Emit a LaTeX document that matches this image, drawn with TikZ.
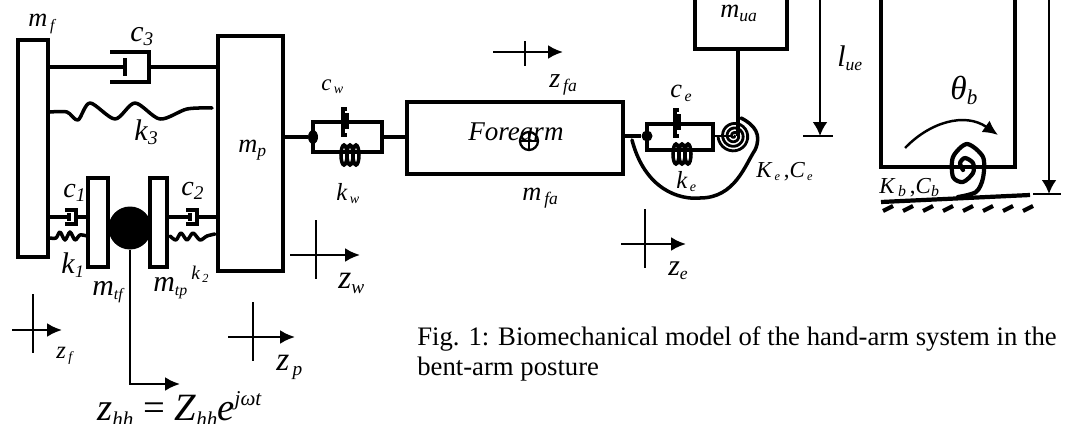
\documentclass[tikz,border=0pt]{standalone}
\usepackage{fontspec}
\setmainfont{Liberation Serif}
\usetikzlibrary{arrows.meta,shapes.geometric}
\newcommand{\lsub}[2]{\textit{#1}{\raisebox{-.35ex}{\fontsize{\q}{\q}\selectfont\textit{#2}}}}
\tikzset{
  massbox/.style 2 args={draw, line width=2pt, inner sep=0pt, minimum width=#1*0.02cm, minimum height=#2*0.02cm},
  lab/.style={anchor=base west, inner sep=0pt},
  barline/.style={line width=2pt},
  thinline/.style={line width=1.4pt},
  wave/.style={line width=2pt, line cap=round, line join=round},
  tipline/.style={-{Latex[length=3mm,width=2.8mm]}, line width=1.4pt}
}
\begin{document}
\begin{tikzpicture}[x=0.02cm, y=-0.02cm]
  \useasboundingbox (0,0) rectangle (1075,423);
  % masses
  \node[massbox={30}{217}] (mf) at (33,148.5) {};
  \node[massbox={65}{235}] (mp) at (250.5,153.5) {};
  \node[massbox={20}{89}] (mtf) at (98,222.5) {};
  \node[massbox={17}{89}] (mtp) at (158.5,222.5) {};
  \node[circle, fill=black, inner sep=0pt, minimum size=0.86cm] (ball) at (130,228) {};
  \node[massbox={216}{72}] (fa) at (515,138) {};
  \node[circle, draw, line width=1.3pt, inner sep=0pt, minimum size=0.36cm] (cg) at (529,141) {};
  \draw[line width=1.3pt] (cg.west) -- (cg.east) (cg.north) -- (cg.south);
  % open boxes cut by the page
  \coordinate (mua) at (738,49);
  \coordinate (mual) at (695,-3);
  \coordinate (muar) at (787,-3);
  \draw[barline] (mual) |- (mua) -| (muar);
  \draw[barline] (881,-3) |- (1015,167) -- (1015,-3);
  % dampers c3, c1, c2
  \foreach \x/\w/\y/\h/\t in {110/39/67/15/2, 65/11/217/7/2.6, 186/11/217/7/2.6}{
    \draw[line width=\t pt] (\x,\y-\h) -- (\x+\w,\y-\h) -- (\x+\w,\y+\h) -- (\x,\y+\h);
    \draw[line width=\t pt] (\x+0.38*\w,\y-0.6*\h) -- (\x+0.38*\w,\y+0.6*\h);
  }
  \coordinate (c3l) at (124,67);
  \coordinate (c3r) at (149,67);
  \coordinate (c1l) at (69,217);
  \coordinate (c1r) at (76,217);
  \coordinate (c2l) at (190,217);
  \coordinate (c2r) at (197,217);
  \draw[barline] (mf.east |- c3l) -- (c3l) (c3r) -- (mp.west |- c3r);
  \draw[barline] (mf.east |- c1l) -- (c1l) (c1r) -- (mtf.west |- c1r);
  \draw[barline] (mtp.east |- c2l) -- (c2l) (c2r) -- (mp.west |- c2r);
  % springs
  \draw[wave] plot[smooth] coordinates {(50,112) (67,112) (78,120) (90,103) (115,119) (135,103) (160,119) (187,109) (212,108)};
  \draw[wave] plot[smooth] coordinates {(50,238) (56,238) (60,232) (65,240) (70,232) (75,240) (80,235) (87,236)};
  \draw[wave] plot[smooth] coordinates {(170,236) (176,240) (181,233) (187,240) (193,233) (200,240) (207,236) (215,234)};
  % wrist
  \coordinate (wl) at (313,137);
  \coordinate (wr) at (382,137);
  \node[ellipse, fill=black, inner sep=0pt, minimum width=0.2cm, minimum height=0.28cm] (wdot) at (wl) {};
  \draw[barline] (mp.east |- wl) -- (wdot);
  \draw[line width=2.8pt] (wr) -- (fa.west |- wr);
  \draw[barline] (wl |- 0,122) rectangle (wr |- 0,152);
  % elbow
  \coordinate (el) at (647,136);
  \coordinate (er) at (713,136);
  \node[circle, fill=black, inner sep=0pt, minimum size=0.22cm] (edot) at (el) {};
  \draw[barline] (fa.east |- el) -- (edot);
  \draw[barline] (el |- 0,124) rectangle (er |- 0,150);
  % vertical dampers and coils in the two joints
  \foreach \x/\y/\s in {343/135/152, 675/136/151}{
    \draw[line width=2.2pt] (\x+4,\y-26) -| (\x,\y) -- (\x+4,\y);
    \draw[line width=2.2pt] (\x+4,\y-22) -- (\x+4,\y-6);
    \foreach \d in {-6,0,6}{\draw[line width=2pt] (\x+7+\d,\s+3) ellipse[x radius=0.06cm, y radius=0.2cm];}
  }
  % elbow spiral and its long turn
  \node[inner sep=0pt, minimum size=1pt] (espiral) at (734,136) {};
  \draw[line width=1.4pt] (er) -- (espiral);
  \draw[line width=1.6pt] plot[smooth, domain=0:1260, samples=90] ({734+\x/1260*16*cos(\x)},{136+\x/1260*16*sin(\x)});
  \draw[wave] (632,140) .. controls (645,190) and (680,200) .. (700,198) .. controls (735,198) and (745,165) .. (755,150) .. controls (762,135) and (755,125) .. (741,118);
  \draw[barline] (mua) -- (mua |- espiral);
  % shoulder spiral and ground
  \draw[line width=2.4pt, line cap=round, line join=round] plot[smooth] coordinates {(958,197) (976,192) (983,178) (983,157) (967,144) (953,157) (953,177) (963,182) (973,173) (973,163) (965,158) (960,163) (963,170)};
  \coordinate (gl) at (881,202);
  \coordinate (gr) at (1030,195);
  \draw[line width=2.4pt] (gl) -- (gr);
  \foreach \x in {883,903,...,1023}{\draw[line width=2.4pt] (\x,211) -- (\x+10,206);}
  % length arrows
  \foreach \x/\y/\w/\e in {820/136/803/833, 1049/194/1033/1061}{
    \draw[thinline] (\w,\y) -- (\e,\y);
    \draw[thinline, -{Latex[length=2.8mm,width=3mm]}] (\x,-3) -- (\x,\y);
  }
  \draw[tipline] (905,148) .. controls (930,122) and (965,112) .. (998,135);
  % displacement marks
  \foreach \n/\xa/\xb/\xc/\ya/\yb/\yc in {f/12/62/33/294/353/330, p/228/295/253/302/361/337, w/290/360/316/220/279/255, fa/493/563/525/41/66/52, e/621/686/645/209/268/244}{
    \coordinate (\n a) at (\xa,\yc);
    \coordinate (\n b) at (\xb,\yc);
    \draw[tipline] (\n a) -- (\n b);
    \draw[thinline] (\xc,\ya) -- (\xc,\yb);
  }
  \coordinate (hh) at (180,384);
  \draw[tipline] (ball.south) |- (hh);
  % labels
  \foreach \x/\y/\s/\q/\txt in {28/26/15/9/{\lsub{m}{\,f}}, 130/41/17/11/{\lsub{c}{3}}, 134/140/17/11/{\lsub{k}{3}}, 238/152/15/10/{\lsub{m}{p}},
      63/197/16/11/{\lsub{c}{1}}, 181/195/16/11/{\lsub{c}{2}}, 61/273/17/10/{\lsub{k}{1}}, 92/295/17/9/{\lsub{m}{tf}}, 153/291/17/9/{\lsub{m}{tp}},
      338/288/19/11/{\lsub{z}{w}}, 276/370/19/11/{\lsub{z}{\,p}}, 549/87/16/10/{\lsub{z}{\,fa}}, 522/200/15/10/{\lsub{m}{\,fa}}, 670/97/15/9/{\lsub{c}{\,e}},
      668/275/17/10/{\lsub{z}{e}}, 837/66/17/10/{\lsub{l}{ue}}, 720/17/15/10/{\lsub{m}{ua}}, 468/140/15.4/10/{\textit{Forearm}},
      191/279/11/7/{\lsub{k}{\,2}}, 56/358/14/8/{\lsub{z}{\,f}}, 321/90/13/8/{\lsub{c}{\,w}}, 336/200/14/8/{\lsub{k}{\,w}},
      676/188/14/8/{\lsub{k}{\,e}}, 756/177/13/7/{\lsub{K}{\,e}\,,\lsub{C}{\,e}}, 879/193/13/9/{\lsub{K}{\,b}\,,\lsub{C}{b}}, 950/99/19/12/{\lsub{θ}{b}}}{
    \node[lab, font=\fontsize{\s}{\s}\selectfont] at (\x,\y) {\txt};
  }
  \def\q{12}
  \node[lab, font=\fontsize{22}{22}\selectfont] (hheq) at (97,420) {\lsub{z}{hh} = \lsub{Z}{hh}\textit{e}\raisebox{.8ex}{\fontsize{12}{12}\selectfont\textit{jωt}}};
  \node[lab, anchor=north west, font=\fontsize{15.2}{17}\selectfont, align=left] (caption) at (417,326) {Fig. 1: Biomechanical model of the hand-arm system in the\\bent-arm posture};
\end{tikzpicture}
\end{document}
